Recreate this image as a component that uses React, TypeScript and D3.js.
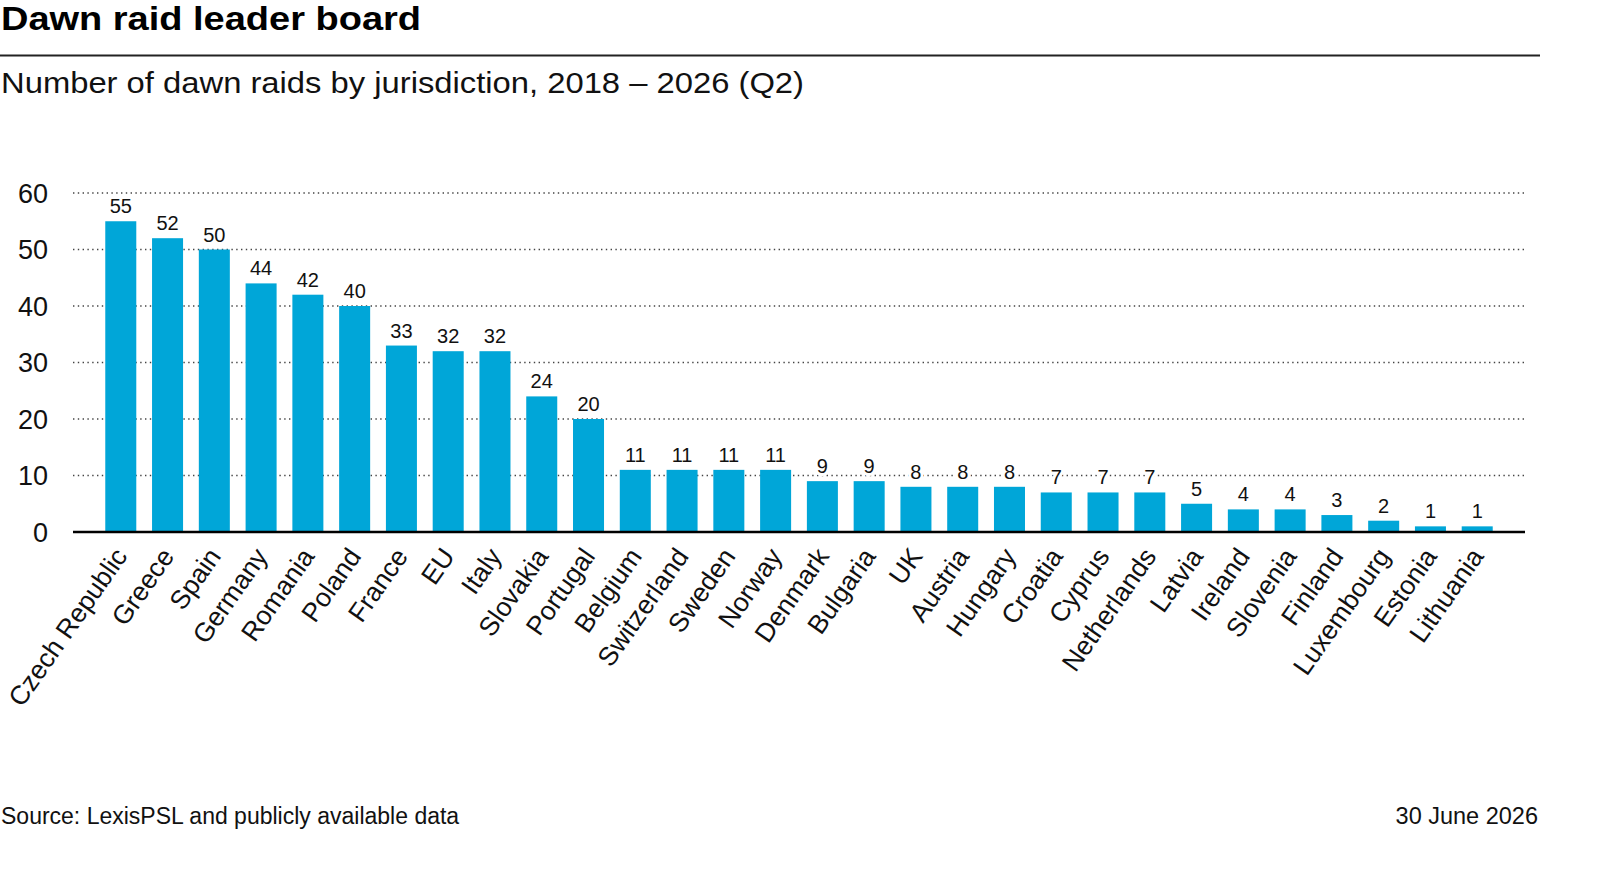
import * as d3 from "d3";

const countries = [
  "Czech Republic", "Greece", "Spain", "Germany", "Romania", "Poland", "France",
  "EU", "Italy", "Slovakia", "Portugal", "Belgium", "Switzerland", "Sweden",
  "Norway", "Denmark", "Bulgaria", "UK", "Austria", "Hungary", "Croatia",
  "Cyprus", "Netherlands", "Latvia", "Ireland", "Slovenia", "Finland",
  "Luxembourg", "Estonia", "Lithuania",
];
const raids = [
  55, 52, 50, 44, 42, 40, 33, 32, 32, 24, 20, 11, 11, 11, 11, 9, 9, 8, 8, 8, 7,
  7, 7, 5, 4, 4, 3, 2, 1, 1,
];
const yTicks = [0, 10, 20, 30, 40, 50, 60];

const W = 1600;
const H = 884;
const FONT = "'Liberation Sans', Arial, sans-serif";
const BLUE = "#00a6d8";

export default function App() {
  const left = 73;
  const right = 1525;
  const top = 193;
  const bottom = 532;

  const x = d3
    .scaleBand<string>()
    .domain(countries)
    .range([left, right])
    .paddingInner(0.337)
    .paddingOuter(0.69);
  const y = d3.scaleLinear().domain([0, 60]).range([bottom, top]);

  return (
    <div style={{ position: "absolute", left: 0, top: 0 }}>
      <svg width={W} height={H} style={{ display: "block", fontFamily: FONT }}>
        <rect width={W} height={H} fill="#fff" />

        <text
          x={1}
          y={30}
          fontSize={33}
          fontWeight="bold"
          fill="#000"
          textLength={420}
          lengthAdjust="spacingAndGlyphs"
        >
          Dawn raid leader board
        </text>
        <line x1={0} x2={1540} y1={55.5} y2={55.5} stroke="#222" strokeWidth={2} />
        <text
          x={1}
          y={93}
          fontSize={29}
          fill="#111"
          textLength={803}
          lengthAdjust="spacingAndGlyphs"
        >
          Number of dawn raids by jurisdiction, 2018 – 2026 (Q2)
        </text>

        {/* gridlines */}
        {yTicks
          .filter((t) => t > 0)
          .map((t) => (
            <line
              key={t}
              x1={left}
              x2={right}
              y1={y(t)}
              y2={y(t)}
              stroke="#444"
              strokeWidth={1.4}
              strokeDasharray="1.4,3.4"
            />
          ))}

        {/* y labels */}
        {yTicks.map((t) => (
          <text
            key={t}
            x={48}
            y={y(t)}
            dy="0.36em"
            textAnchor="end"
            fontSize={27}
            fill="#111"
          >
            {t}
          </text>
        ))}

        {/* bars */}
        {countries.map((c, i) => (
          <rect
            key={c}
            x={x(c)}
            y={y(raids[i])}
            width={x.bandwidth()}
            height={y(0) - y(raids[i])}
            fill={BLUE}
          />
        ))}

        {/* value labels */}
        {countries.map((c, i) => (
          <text
            key={c}
            x={(x(c) as number) + x.bandwidth() / 2}
            y={y(raids[i]) - 8}
            textAnchor="middle"
            fontSize={20}
            fill="#111"
            stroke="#fff"
            strokeWidth={6}
            paintOrder="stroke"
          >
            {raids[i]}
          </text>
        ))}

        <line x1={left} x2={right} y1={bottom} y2={bottom} stroke="#000" strokeWidth={2.5} />

        {/* category labels */}
        {countries.map((c) => {
          const cx = (x(c) as number) + x.bandwidth() / 2;
          const cy = bottom + 19;
          return (
            <text
              key={c}
              transform={`translate(${cx},${cy}) rotate(-55)`}
              textAnchor="end"
              dy="0.35em"
              fontSize={26.5}
              fill="#111"
            >
              {c}
            </text>
          );
        })}

        <text x={1} y={824} fontSize={23} fill="#111">
          Source: LexisPSL and publicly available data
        </text>
        <text x={1538} y={824} fontSize={23.5} fill="#111" textAnchor="end">
          30 June 2026
        </text>
      </svg>
    </div>
  );
}
